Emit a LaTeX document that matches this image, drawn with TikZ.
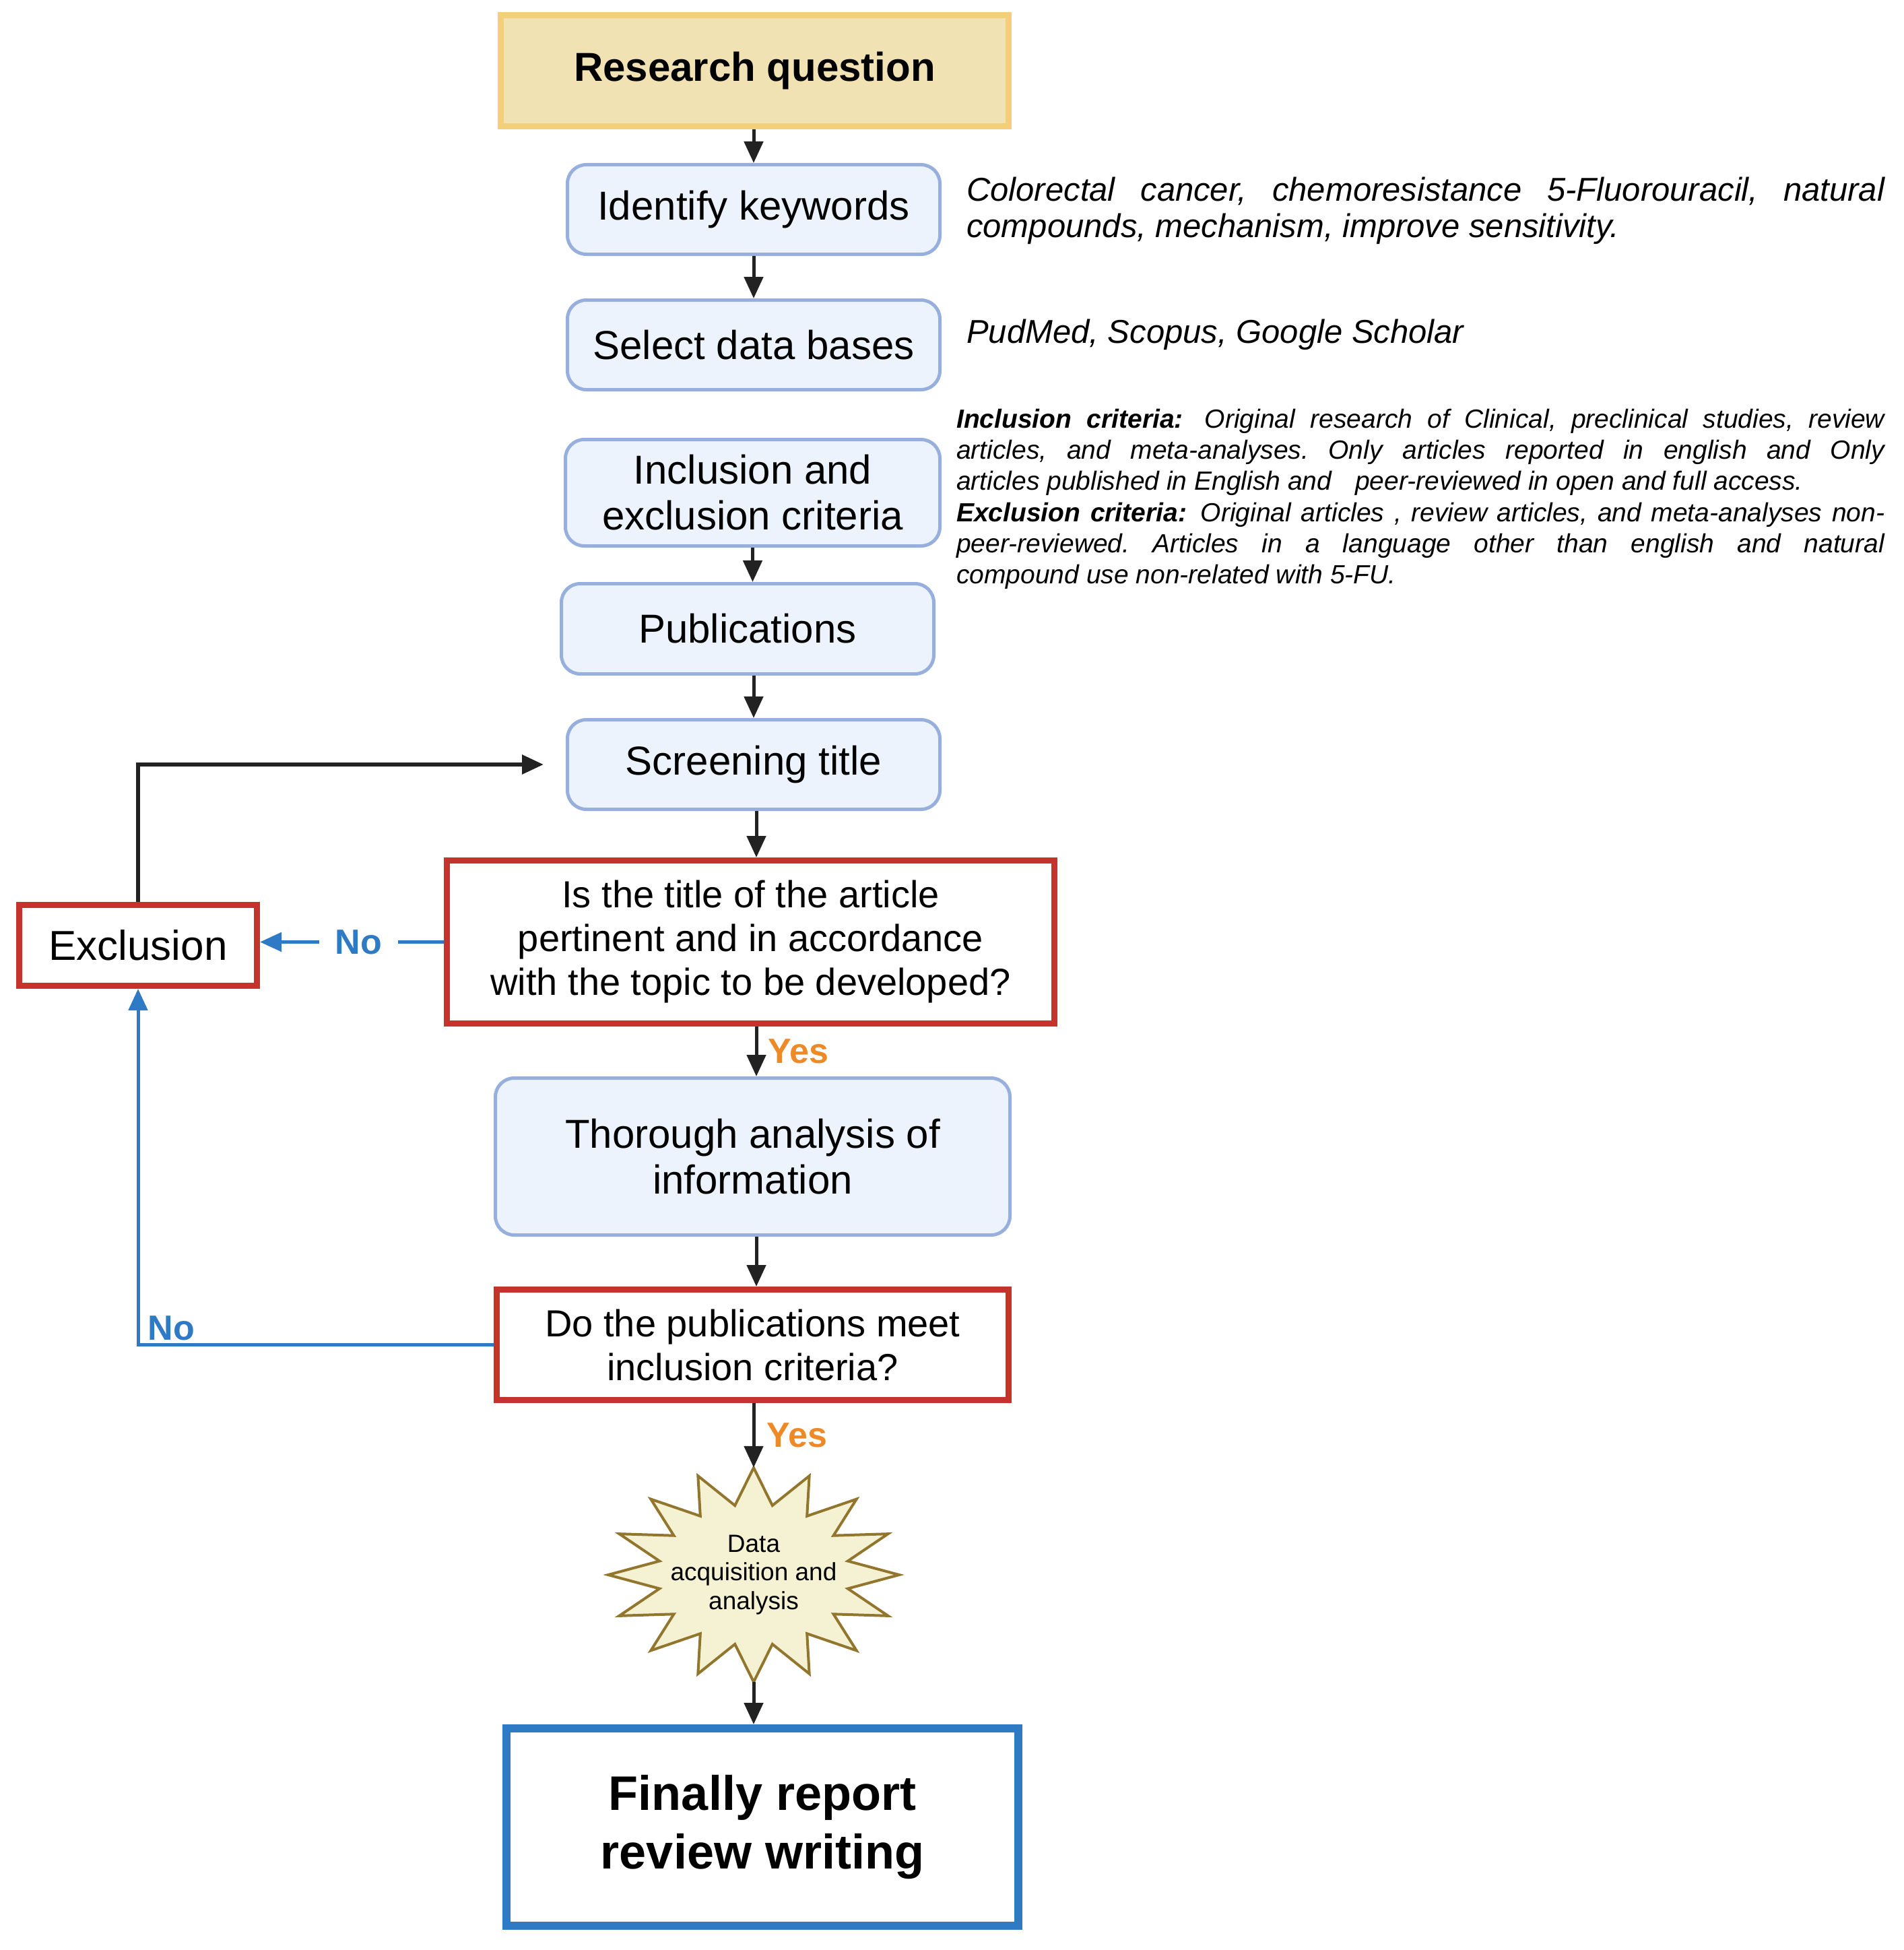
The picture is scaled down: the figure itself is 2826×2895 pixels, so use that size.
\documentclass[tikz,border=0pt]{standalone}
\usepackage{fontspec}
\setmainfont{Liberation Sans}
\usetikzlibrary{arrows.meta,shapes.geometric}
\frenchspacing
\definecolor{rqfill}{RGB}{241,226,180}
\definecolor{rqdraw}{RGB}{243,207,122}
\definecolor{boxfill}{RGB}{236,243,252}
\definecolor{boxdraw}{RGB}{150,175,220}
\definecolor{redc}{RGB}{196,52,45}
\definecolor{bluec}{RGB}{46,122,196}
\definecolor{orangec}{RGB}{238,137,40}
\definecolor{starfill}{RGB}{245,242,212}
\definecolor{stardraw}{RGB}{146,118,46}
\definecolor{arrowc}{RGB}{34,34,34}
\begin{document}
\begin{tikzpicture}[x=1pt,y=-1pt,
  rqbox/.style={draw=rqdraw, fill=rqfill, line width=9pt, inner sep=0pt, align=center,
    font=\fontsize{60}{68}\selectfont\bfseries},
  bluebox/.style={draw=boxdraw, fill=boxfill, line width=5pt, rounded corners=28pt,
    inner sep=0pt, align=center, font=\fontsize{60}{68}\selectfont},
  redbox/.style={draw=redc, fill=white, line width=9pt, inner sep=0pt, align=center,
    font=\fontsize{56}{65}\selectfont},
  finbox/.style={draw=bluec, fill=white, line width=12pt, inner sep=0pt, align=center,
    font=\fontsize{72}{87}\selectfont\bfseries},
  arr/.style={draw=arrowc, line width=5pt, -{Triangle[length=32pt, width=28pt]}},
  bluearr/.style={draw=bluec, line width=5pt, -{Triangle[length=32pt, width=28pt]}},
  loopline/.style={draw=arrowc, line width=6pt, -{Triangle[length=32pt, width=28pt]}},
  nolabel/.style={text=bluec, font=\fontsize{52}{60}\selectfont\bfseries},
  yeslabel/.style={text=orangec, font=\fontsize{52}{60}\selectfont\bfseries},
  sidetext/.style={align=left, inner sep=0pt, font=\fontsize{49}{54}\selectfont\itshape},
  crittext/.style={align=left, inner sep=0pt, font=\fontsize{39}{46.2}\selectfont\itshape},
  burst/.style={draw=stardraw, fill=starfill, line width=4pt, line join=miter}
]
\useasboundingbox (0,0) rectangle (2826,2895);

% main column
\node[rqbox, minimum width=754pt, minimum height=165pt] (RQ) at (1120.5,105) {Research question};
\node[bluebox, minimum width=553pt, minimum height=133pt] (IK) at (1119,311) {Identify keywords};
\node[bluebox, minimum width=553pt, minimum height=133pt] (SD) at (1119,512) {Select data bases};
\node[bluebox, minimum width=556pt, minimum height=158pt] (IE) at (1117.5,731.5) {Inclusion and\\exclusion criteria};
\node[bluebox, minimum width=553pt, minimum height=134pt] (PUB) at (1110,933.5) {Publications};
\node[bluebox, minimum width=553pt, minimum height=133pt] (ST) at (1119,1135) {Screening title};
\node[redbox, minimum width=902pt, minimum height=242pt] (D1) at (1114.5,1398.5)
  {Is the title of the article\\pertinent and in accordance\\with the topic to be developed?};
\node[redbox, minimum width=353pt, minimum height=120pt, font=\fontsize{62}{70}\selectfont] (EX) at (205,1403.5) {Exclusion};
\node[bluebox, minimum width=764pt, minimum height=233pt] (TH) at (1117.5,1717) {Thorough analysis of\\information};
\node[redbox, minimum width=760pt, minimum height=164pt] (D2) at (1117.5,1996.5)
  {Do the publications meet\\inclusion criteria?};

% starburst
\draw[burst] plot[domain=0:31, samples=32]
  ({1119 + 216*(1-0.34*mod(round(\x),2))*cos(90+11.25*\x)},
   {2338 - 159*(1-0.34*mod(round(\x),2))*sin(90+11.25*\x)}) -- cycle;
\node[ellipse, minimum width=432pt, minimum height=318pt, inner sep=0pt, align=center,
  font=\fontsize{37}{42.5}\selectfont] (STAR) at (1119,2338) {Data\\acquisition and\\analysis};

\node[finbox, minimum width=760pt, minimum height=293pt] (FIN) at (1132,2712.5) {Finally report\\review writing};

% side texts
\node[sidetext, anchor=west] (KWT) at (1435,313)
  {\makebox[1363pt][s]{Colorectal cancer, chemoresistance 5-Fluorouracil, natural}\\
   compounds, mechanism, improve sensitivity.};
\node[sidetext, anchor=west] (DBT) at (1435,497) {PudMed, Scopus, Google Scholar};
\node[crittext, anchor=west] (CRT) at (1420,741)
  {\makebox[1378pt][s]{\bfseries Inclusion criteria:\kern10pt\mdseries\ Original research of Clinical, preclinical studies, review}\\
   \makebox[1378pt][s]{articles, and meta-analyses. Only articles reported in english and Only}\\
   articles published in English and\hspace{24pt} peer-reviewed in open and full access.\\
   \makebox[1378pt][s]{\bfseries Exclusion criteria:\kern6pt\mdseries\ Original articles , review articles, and meta-analyses non-}\\
   \makebox[1378pt][s]{peer-reviewed. Articles in a language other than english and natural}\\
   compound use non-related with 5-FU.};

% connectors
\draw[arr] (IK.north |- RQ.south) -- (IK.north);
\draw[arr] (IK.south) -- (SD.north);
\draw[arr] (IE.south) -- (IE.south |- PUB.north);
\draw[arr] (ST.north |- PUB.south) -- (ST.north);
\coordinate (SPINE) at (1123,0);
\draw[arr] (SPINE |- ST.south) -- (SPINE |- D1.north);
\draw[arr] (SPINE |- D1.south) -- node[yeslabel, anchor=west, xshift=12pt] (Y1) {Yes} (SPINE |- TH.north);
\draw[arr] (SPINE |- TH.south) -- (SPINE |- D2.north);
\draw[arr] (STAR.north |- D2.south) -- node[yeslabel, anchor=west, xshift=14pt] (Y2) {Yes} (STAR.north);
\draw[arr] (STAR.south) -- (STAR.south |- FIN.north);

% No branch 1
\draw[bluearr] (D1.west) -- node[nolabel, fill=white, inner xsep=24pt, inner ysep=2pt, xshift=10pt] (N1) {No} (EX.east |- D1.west);
% No branch 2
\draw[bluearr] (D2.west) -| node[pos=0.5, nolabel, anchor=south west, inner sep=4pt, xshift=8pt] (N2) {No} (EX.south);
% loop back to screening
\coordinate (LOOPEND) at (807,1135);
\draw[loopline] (EX.north) |- (LOOPEND);
\end{tikzpicture}
\end{document}
